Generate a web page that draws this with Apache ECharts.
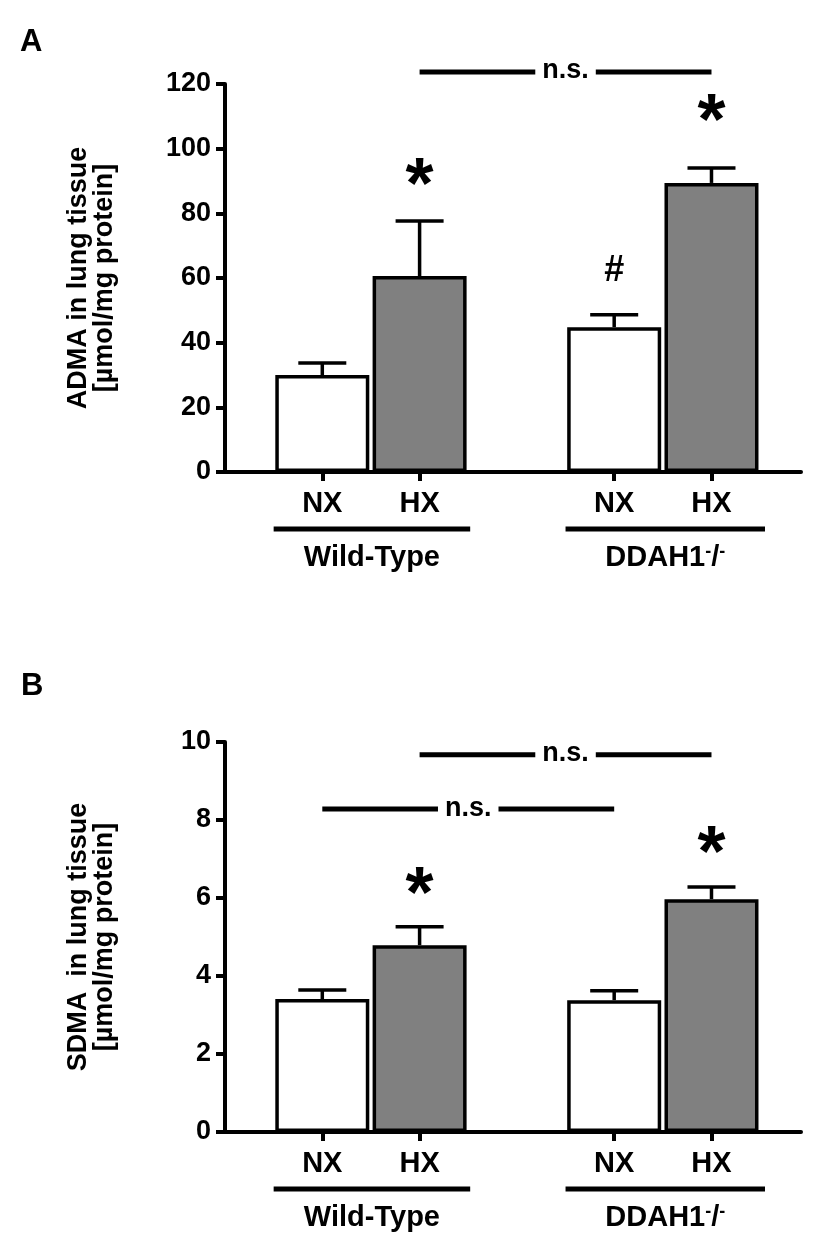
<!DOCTYPE html>
<html>
<head>
<meta charset="utf-8">
<script src="https://cdn.jsdelivr.net/npm/echarts@6/dist/echarts.min.js"></script>
<style>
  html, body { margin: 0; padding: 0; background: #fff; }
  #chart { width: 829px; height: 1250px; }
</style>
</head>
<body>
<div id="chart"></div>
<script>
// groups / conditions
const conditions = ['NX', 'HX', 'NX', 'HX'];
const xPos = [1, 2, 4, 5];
const genotypes = ['Wild-Type', 'DDAH1{sup|-}/{sup|-}'];

// panel A: ADMA
const admaMean = [30.0, 60.6, 44.8, 89.4];
const admaSem = [3.7, 17.0, 3.8, 4.6];
// panel B: SDMA
const sdmaMean = [3.41, 4.79, 3.38, 5.97];
const sdmaSem = [0.23, 0.47, 0.24, 0.31];

// significance marks: [x, y]
const marksA = [[2, 92], [5, 112], [4, 62]];
const marksAText = ['*', '*', '#'];
const marksB = [[2, 6.38], [5, 7.44]];
const marksBText = ['*', '*'];
// n.s. comparisons: [from x, to x, y]
const nsA = [[2, 5, 123.7]];
const nsB = [[1, 4, 8.28], [2, 5, 9.67]];

const FONT = '"Liberation Sans", Arial, sans-serif';
const GRAY = '#808080';

let chart = echarts.init(document.getElementById('chart'));

function xAxis(gridIndex) {
    return {
        gridIndex: gridIndex,
        type: 'value',
        min: 0,
        max: 5.92,
        splitLine: { show: false },
        axisLine: { lineStyle: { color: '#000', width: 4 } },
        axisTick: { customValues: xPos, length: 9, lineStyle: { color: '#000', width: 4 } },
        axisLabel: {
            customValues: xPos,
            formatter: v => conditions[xPos.indexOf(v)] || '',
            margin: 17,
            color: '#000',
            fontSize: 29,
            fontWeight: 'bold',
            fontFamily: FONT
        }
    };
}

function yAxis(gridIndex, max, interval, name) {
    return {
        gridIndex: gridIndex,
        type: 'value',
        min: 0,
        max: max,
        interval: interval,
        splitLine: { show: false },
        axisLine: { show: true, lineStyle: { color: '#000', width: 4 } },
        axisTick: { show: true, length: 9, lineStyle: { color: '#000', width: 4 } },
        axisLabel: { margin: 14, color: '#000', fontSize: 27, fontWeight: 'bold', fontFamily: FONT },
        name: name,
        nameLocation: 'middle',
        nameGap: 107,
        nameTextStyle: { color: '#000', fontSize: 27, fontWeight: 'bold', fontFamily: FONT, lineHeight: 26 }
    };
}

function barSeries(idx, means) {
    return {
        type: 'bar',
        xAxisIndex: idx,
        yAxisIndex: idx,
        barWidth: 94,
        data: means.map((m, i) => ({
            value: [xPos[i], m],
            itemStyle: { color: conditions[i] === 'HX' ? GRAY : '#fff' }
        })),
        itemStyle: { borderColor: '#000', borderWidth: 3.5 },
        z: 2
    };
}

function errorSeries(idx, means, sems) {
    return {
        type: 'custom',
        xAxisIndex: idx,
        yAxisIndex: idx,
        clip: false,
        data: means.map((m, i) => [xPos[i], m, sems[i]]),
        encode: { x: 0, y: 1 },
        renderItem: (params, api) => {
            const x = api.value(0), m = api.value(1), e = api.value(2);
            const p0 = api.coord([x, m]);
            const p1 = api.coord([x, m + e]);
            return {
                type: 'group',
                children: [
                    { type: 'line', shape: { x1: p0[0], y1: p0[1], x2: p1[0], y2: p1[1] }, style: { stroke: '#000', lineWidth: 3.5 } },
                    { type: 'line', shape: { x1: p1[0] - 24, y1: p1[1], x2: p1[0] + 24, y2: p1[1] }, style: { stroke: '#000', lineWidth: 3.5 } }
                ]
            };
        },
        z: 3
    };
}

function markSeries(idx, marks, texts) {
    return {
        type: 'custom',
        xAxisIndex: idx,
        yAxisIndex: idx,
        clip: false,
        data: marks,
        encode: { x: 0, y: 1 },
        renderItem: (params, api) => {
            const p = api.coord([api.value(0), api.value(1)]);
            const t = texts[params.dataIndex];
            const star = t === '*';
            return {
                type: 'text',
                x: p[0],
                y: p[1] + (star ? 14 : 0),
                style: {
                    text: t,
                    fill: '#000',
                    fontSize: star ? 72 : 36,
                    fontWeight: 'bold',
                    fontFamily: FONT,
                    align: 'center',
                    verticalAlign: 'middle'
                }
            };
        },
        z: 4
    };
}

function nsSeries(idx, ns) {
    return {
        type: 'custom',
        xAxisIndex: idx,
        yAxisIndex: idx,
        clip: false,
        data: ns,
        encode: { x: [0, 1], y: 2 },
        renderItem: (params, api) => {
            const a = api.coord([api.value(0), api.value(2)]);
            const b = api.coord([api.value(1), api.value(2)]);
            return {
                type: 'group',
                children: [
                    { type: 'line', shape: { x1: a[0], y1: a[1], x2: b[0], y2: b[1] }, style: { stroke: '#000', lineWidth: 5 } },
                    {
                        type: 'text', x: (a[0] + b[0]) / 2, y: a[1] - 1,
                        style: {
                            text: 'n.s.', fill: '#000', fontSize: 27, fontWeight: 'bold', fontFamily: FONT,
                            align: 'center', verticalAlign: 'middle',
                            backgroundColor: '#fff', padding: [0, 7]
                        }
                    }
                ]
            };
        },
        z: 4
    };
}

function groupSeries(idx) {
    const spans = [[xPos[0] - 0.5, xPos[1] + 0.52, 0], [xPos[2] - 0.5, xPos[3] + 0.55, 0]];
    return {
        type: 'custom',
        xAxisIndex: idx,
        yAxisIndex: idx,
        clip: false,
        data: spans,
        encode: { x: [0, 1], y: 2 },
        renderItem: (params, api) => {
            const a = api.coord([api.value(0), 0]);
            const b = api.coord([api.value(1), 0]);
            return {
                type: 'group',
                children: [
                    { type: 'line', shape: { x1: a[0], y1: a[1] + 57, x2: b[0], y2: a[1] + 57 }, style: { stroke: '#000', lineWidth: 5 } },
                    {
                        type: 'text', x: (a[0] + b[0]) / 2, y: a[1] + 86,
                        style: {
                            text: genotypes[params.dataIndex],
                            fill: '#000', fontSize: 29, fontWeight: 'bold', fontFamily: FONT,
                            align: 'center', verticalAlign: 'middle',
                            rich: {
                                sup: { fontSize: 18, fontWeight: 'bold', fontFamily: FONT, fill: '#000', verticalAlign: 'top', lineHeight: 29 }
                            }
                        }
                    }
                ]
            };
        },
        z: 4
    };
}

let option = {
    animation: false,
    backgroundColor: '#fff',
    grid: [
        { left: 225, top: 84, width: 576, height: 388 },
        { left: 225, top: 742, width: 576, height: 390 }
    ],
    xAxis: [xAxis(0), xAxis(1)],
    yAxis: [
        yAxis(0, 120, 20, 'ADMA in lung tissue\n[\u00b5mol/mg protein]'),
        yAxis(1, 10, 2, 'SDMA  in lung tissue\n[\u00b5mol/mg protein]')
    ],
    graphic: [
        { type: 'text', left: 20, top: 27, style: { text: 'A', fontSize: 31, fontWeight: 'bold', fontFamily: FONT, fill: '#000' } },
        { type: 'text', left: 21, top: 671, style: { text: 'B', fontSize: 31, fontWeight: 'bold', fontFamily: FONT, fill: '#000' } }
    ],
    series: [
        barSeries(0, admaMean),
        errorSeries(0, admaMean, admaSem),
        markSeries(0, marksA, marksAText),
        nsSeries(0, nsA),
        groupSeries(0),
        barSeries(1, sdmaMean),
        errorSeries(1, sdmaMean, sdmaSem),
        markSeries(1, marksB, marksBText),
        nsSeries(1, nsB),
        groupSeries(1)
    ]
};

chart.setOption(option);
</script>
</body>
</html>
